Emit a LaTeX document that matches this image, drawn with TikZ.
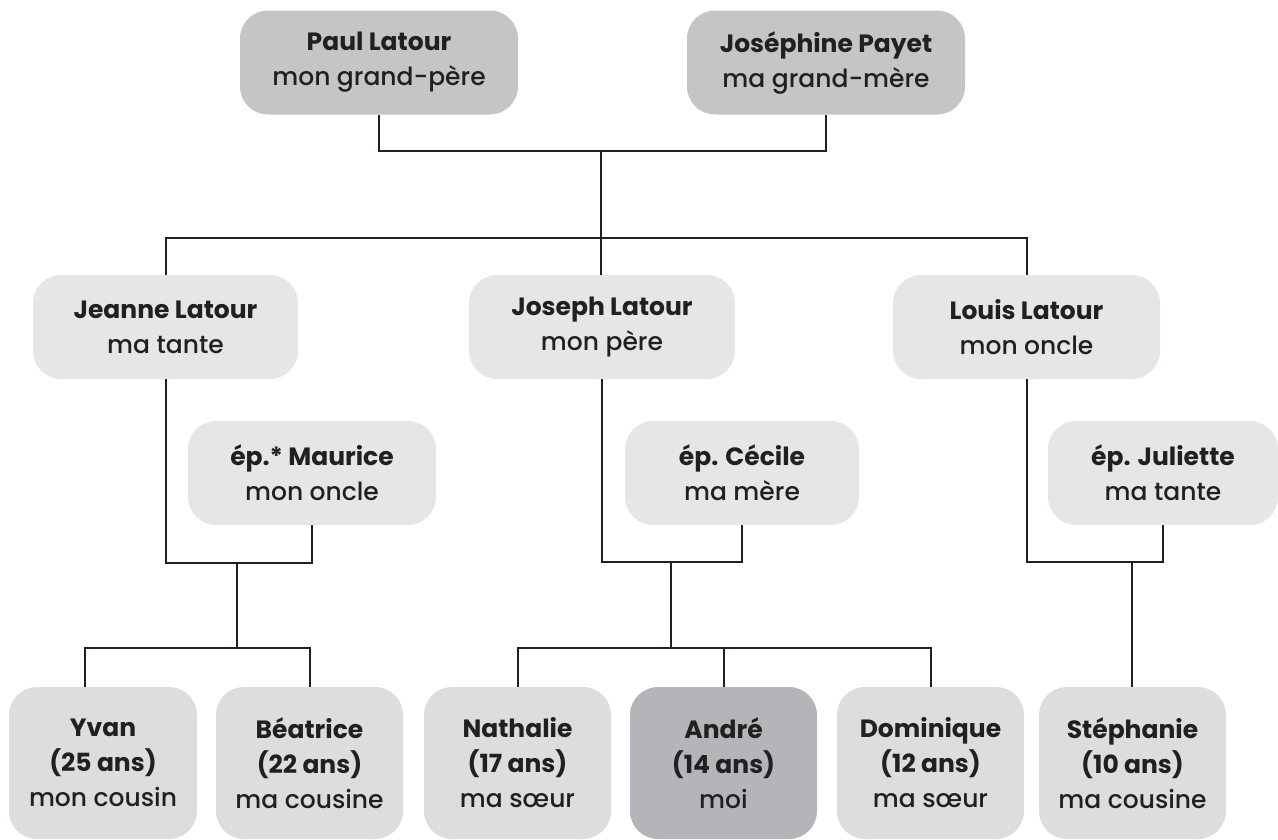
\documentclass[tikz,border=0pt]{standalone}
\usepackage{fontspec}
\setmainfont{Poppins}[UprightFont=* Medium, BoldFont=* Bold]
\definecolor{inkgray}{HTML}{231F20}
\definecolor{elderfill}{HTML}{C4C5C7}
\definecolor{selffill}{HTML}{B4B5B8}
\definecolor{kinfill}{HTML}{E5E6E7}
\definecolor{childfill}{HTML}{DCDDDF}
\begin{document}
\begin{tikzpicture}[x=1pt, y=-1pt]
    \tikzstyle{line} = [draw=inkgray, line width=2pt]
    \tikzstyle{rec} = [rectangle, rounded corners=28pt, align=center,
        text=inkgray, inner sep=0pt, minimum height=104pt,
        font=\fontsize{25}{35}\selectfont]
    \tikzstyle{elder} = [rec, fill=elderfill, minimum width=278pt]
    \tikzstyle{kin} = [rec, fill=kinfill]
    \tikzstyle{child} = [rec, fill=childfill, minimum width=187pt,
        minimum height=152pt]

    \useasboundingbox (0,0) rectangle (1278,839);

    % grandparents
    \node(paul) [elder] at (379,62.5)
        {\textbf{Paul Latour}\\ mon grand-père};
    \node(josephine) [elder] at (826,62.5)
        {\textbf{Joséphine Payet}\\ ma grand-mère};

    % their children
    \node(jeanne) [kin, minimum width=265pt] at (165.5,327)
        {\textbf{Jeanne Latour}\\ ma tante};
    \node(joseph) [kin, minimum width=266pt] at (602,327)
        {\textbf{Joseph Latour}\\ mon père};
    \node(louis) [kin, minimum width=267pt] at (1026.5,327)
        {\textbf{Louis Latour}\\ mon oncle};

    % spouses
    \node(maurice) [kin, minimum width=248pt] at (312,473)
        {\textbf{ép.* Maurice}\\ mon oncle};
    \node(cecile) [kin, minimum width=234pt] at (742,473)
        {\textbf{ép. Cécile}\\ ma mère};
    \node(juliette) [kin, minimum width=230pt] at (1163,473)
        {\textbf{ép. Juliette}\\ ma tante};

    % grandchildren
    \node(yvan) [child, minimum width=188pt] at (103,763)
        {\textbf{Yvan}\\ \textbf{(25 ans)}\\ mon cousin};
    \node(beatrice) [child] at (309.5,763)
        {\textbf{Béatrice}\\ \textbf{(22 ans)}\\ ma cousine};
    \node(nathalie) [child] at (517.5,763)
        {\textbf{Nathalie}\\ \textbf{(17 ans)}\\ ma sœur};
    \node(andre) [child, fill=selffill] at (723.5,763)
        {\textbf{André}\\ \textbf{(14 ans)}\\ moi};
    \node(dominique) [child] at (930.5,763)
        {\textbf{Dominique}\\ \textbf{(12 ans)}\\ ma sœur};
    \node(stephanie) [child] at (1132.5,763)
        {\textbf{Stéphanie}\\ \textbf{(10 ans)}\\ ma cousine};

    % junctions
    \coordinate(gp) at (601,151);
    \coordinate(sib) at (601,238);
    \coordinate(c1) at (237,563);
    \coordinate(c1b) at (237,648);
    \coordinate(c2) at (671,562);
    \coordinate(c2b) at (671,648);
    \coordinate(c3) at (1132,562);
    \coordinate(yvantop) at ([xshift=-18pt]yvan.north);

    \draw[line] (paul.south) |- (gp) -| (josephine.south);
    \draw[line] (gp) -- (gp |- joseph.north);
    \draw[line] (jeanne.north) |- (sib) -| (louis.north);
    \draw[line] (jeanne.south) |- (c1) -| (maurice.south);
    \draw[line] (c1) -- (c1b);
    \draw[line] (yvantop) |- (c1b) -| (beatrice.north);
    \draw[line] (joseph.south) |- (c2) -| (cecile.south);
    \draw[line] (c2) -- (c2b);
    \draw[line] (nathalie.north) |- (c2b) -| (dominique.north);
    \draw[line] (andre.north) -- (andre.north |- c2b);
    \draw[line] (louis.south) |- (c3) -| (juliette.south);
    \draw[line] (c3) -- (c3 |- stephanie.north);
\end{tikzpicture}
\end{document}
